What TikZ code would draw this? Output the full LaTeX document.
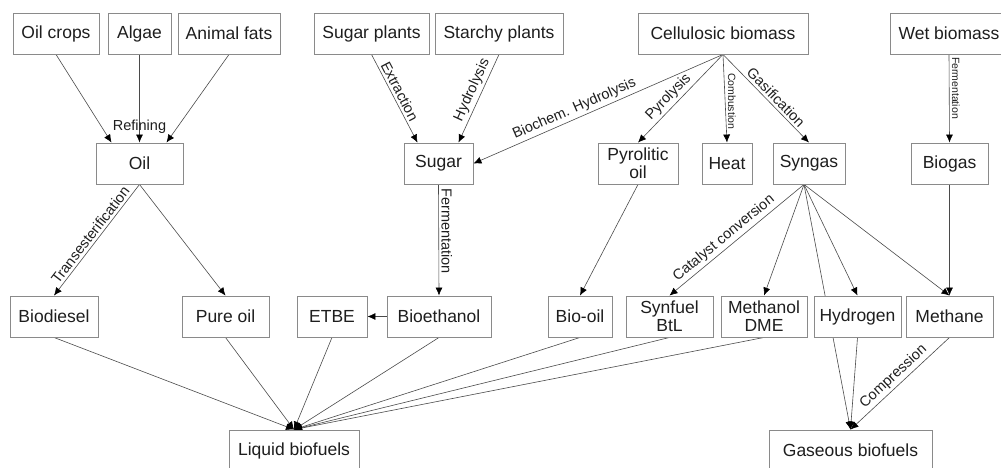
\documentclass[tikz,border=0pt]{standalone}
\usepackage{fontspec}
\setmainfont{Liberation Sans}
\usetikzlibrary{arrows.meta,calc}
\pgfdeclarelayer{bg}
\pgfsetlayers{bg,main}
\definecolor{boxgray}{HTML}{8A8A8A}
\definecolor{linegray}{HTML}{4A4A4A}
\definecolor{txt}{HTML}{1E1E1E}
\begin{document}
\begin{tikzpicture}[x=1pt,y=-1pt,
 box/.style={draw=boxgray, fill=white, line width=0.9pt, minimum height=41pt, inner sep=0pt, align=center, text=txt, font=\fontsize{17.5}{18}\selectfont},
 conn/.style={draw=linegray, line width=0.6pt, -{Latex[length=8pt,width=7pt,color=black]}},
 lbl/.style={font=\fontsize{14.5}{15}\selectfont, text=txt, inner sep=2.5pt, sloped, above},
 plbl/.style={font=\fontsize{14.5}{15}\selectfont, text=txt, inner sep=2.5pt},
 slbl/.style={font=\fontsize{10.5}{11}\selectfont, text=txt, inner sep=2.5pt},
]
\useasboundingbox (0,0) rectangle (1001,467);
\clip (0,0) rectangle (1001,467);
% row 1
\node[box, minimum width=86pt]  (oilcrops) at (56,33.5)   {Oil crops};
\node[box, minimum width=63pt]  (algae)    at (139.5,33.5){Algae};
\node[box, minimum width=102pt] (animal)   at (229,33.5)  {Animal fats};
\node[box, minimum width=115pt] (sugarpl)  at (371.5,33.5){Sugar plants};
\node[box, minimum width=128pt] (starchy)  at (499,33.5)  {Starchy plants};
\node[box, minimum width=170pt] (cellu)    at (723,33.5)  {Cellulosic biomass};
\node[box, minimum width=118pt] (wet)      at (949,33.5)  {Wet biomass};
% row 2
\node[box, minimum width=87pt]  (oil)      at (139.5,163.5){Oil};
\node[box, minimum width=69pt]  (sugar)    at (438.5,163.5){Sugar};
\node[box, minimum width=80pt]  (pyro)     at (638,163.5)  {Pyrolitic\\oil};
\node[box, minimum width=50pt]  (heat)     at (727,163.5)  {Heat};
\node[box, minimum width=72pt]  (syngas)   at (809,163.5)  {Syngas};
\node[box, minimum width=77pt]  (biogas)   at (949.5,163.5){Biogas};
% row 3
\node[box, minimum width=88pt]  (biodiesel) at (54,316.5)   {Biodiesel};
\node[box, minimum width=87pt]  (pureoil)   at (225.5,316.5){Pure oil};
\node[box, minimum width=70pt]  (etbe)      at (332,316.5)  {ETBE};
\node[box, minimum width=104pt] (bioeth)    at (439,316.5)  {Bioethanol};
\node[box, minimum width=64pt]  (biooil)    at (580,316.5)  {Bio-oil};
\node[box, minimum width=87pt]  (synfuel)   at (669.5,316.5){Synfuel\\BtL};
\node[box, minimum width=86pt]  (methanol)  at (764,316.5)  {Methanol\\DME};
\node[box, minimum width=87pt]  (hydrogen)  at (857.5,316.5){Hydrogen};
\node[box, minimum width=87pt]  (methane)   at (949.5,316.5){Methane};
% row 4
\node[box, minimum width=130pt] (liquid)  at (294,450.5)  {Liquid biofuels};
\node[box, minimum width=163pt] (gaseous) at (850.5,450.5){Gaseous biofuels};
\coordinate (sg) at ($(syngas.south)+(-5,0)$);
\begin{pgfonlayer}{bg}
\draw[conn] (oilcrops.south) -- ($(oil.north)+(-28,0)$);
\draw[conn] (algae.south) -- (oil.north) node[plbl, pos=0.82] {Refining};
\draw[conn] (animal.south) -- ($(oil.north)+(27,0)$);
\draw[conn] (oil.south) -- (biodiesel.north) node[lbl, pos=0.50] {Transesterification};
\draw[conn] (oil.south) -- (pureoil.north);
\draw[conn] (sugarpl.south) -- ($(sugar.north)+(-21,0)$) node[lbl, pos=0.46] {Extraction};
\draw[conn] (starchy.south) -- ($(sugar.north)+(20,0)$) node[lbl, pos=0.45] {Hydrolysis};
\draw[conn] (cellu.south) -- (sugar.east) node[lbl, pos=0.58] {Biochem. Hydrolysis};
\draw[conn] (cellu.south) -- (pyro.north) node[lbl, pos=0.56] {Pyrolysis};
\draw[conn] (cellu.south) -- (heat.north) node[slbl, pos=0.53, rotate=-90, anchor=south] {Combustion};
\draw[conn] (cellu.south) -- (syngas.north) node[lbl, pos=0.55] {Gasification};
\draw[conn] (wet.south) -- (biogas.north) node[slbl, pos=0.38, rotate=-90, anchor=south] {Fermentation};
\draw[conn] (sugar.south) -- (bioeth.north) node[plbl, pos=0.42, rotate=-90, anchor=south] {Fermentation};
\draw[conn] (bioeth.west) -- (etbe.east);
\draw[conn] (pyro.south) -- (biooil.north);
\draw[conn] (sg) -- (synfuel.north) node[lbl, pos=0.55] {Catalyst conversion};
\draw[conn] (sg) -- (methanol.north);
\draw[conn] (sg) -- (hydrogen.north);
\draw[conn] (sg) -- (methane.north);
\draw[conn] (sg) -- (gaseous.north);
\draw[conn] (biogas.south) -- (methane.north);
\draw[conn] (hydrogen.south) -- (gaseous.north);
\draw[conn] (methane.south) -- (gaseous.north) node[lbl, pos=0.50] {Compression};
\foreach \s in {biodiesel,pureoil,etbe,bioeth,biooil,synfuel,methanol}
  \draw[conn] (\s.south) -- (liquid.north);
\end{pgfonlayer}
\end{tikzpicture}
\end{document}
